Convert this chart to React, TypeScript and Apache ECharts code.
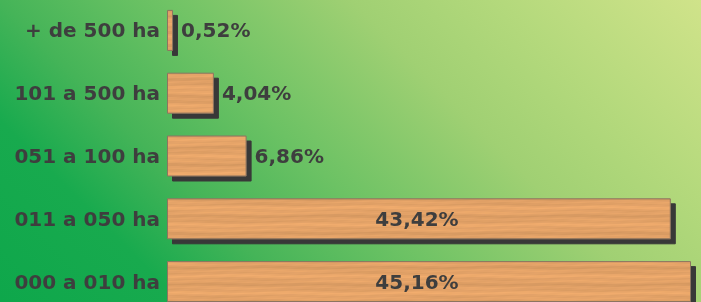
import React, { useEffect, useRef } from 'react';
import * as echarts from 'echarts';

const categories: string[] = ['+ de 500 ha', '101 a 500 ha', '051 a 100 ha', '011 a 050 ha', '000 a 010 ha'];
const shares: number[] = [0.52, 4.04, 6.86, 43.42, 45.16];
const insideLabelThreshold = 20;

function makeWood(): HTMLCanvasElement {
  const w = 240;
  const h = 302;
  const c = document.createElement('canvas');
  c.width = w;
  c.height = h;
  const ctx = c.getContext('2d')!;
  const img = ctx.createImageData(w, h);
  const TX = (2 * Math.PI) / w;
  for (let y = 0; y < h; y++) {
    for (let x = 0; x < w; x++) {
      const g =
        Math.sin(y * 1.1 + 0.7 * Math.sin(x * TX * 2 + y * 0.19)) * 0.4 +
        Math.sin(y * 0.37 + 0.5 * Math.sin(x * TX * 1 + y * 0.05)) * 0.4 +
        Math.sin(y * 2.9 + x * TX * 5) * 0.15 +
        Math.sin(x * TX * 11 + y * 0.8) * 0.08;
      const k = 1 + g * 0.07;
      const i = (y * w + x) * 4;
      img.data[i] = Math.min(255, 227 * k);
      img.data[i + 1] = Math.min(255, 162 * k);
      img.data[i + 2] = Math.min(255, 103 * k);
      img.data[i + 3] = 255;
    }
  }
  ctx.putImageData(img, 0, 0);
  return c;
}

const fmt = (v: number) => v.toFixed(2).replace('.', ',') + '%';

export default function App() {
  const ref = useRef<HTMLDivElement>(null);
  useEffect(() => {
    if (!ref.current) return;
    const chart = echarts.init(ref.current, undefined, { renderer: 'svg' });
    const wood = makeWood();
    const labelFont = {
      fontFamily: 'DejaVu Sans',
      fontWeight: 'bold' as const,
      fontSize: 20,
      color: '#3e3e3e',
    };
    const data = shares.map((v) => {
      const inside = v > insideLabelThreshold;
      return {
        value: v,
        label: inside
          ? { show: true, position: [250, '50%'], align: 'center', verticalAlign: 'middle', ...labelFont, formatter: (p: any) => fmt(p.value) }
          : { show: true, position: 'right', distance: 8, ...labelFont, formatter: (p: any) => fmt(p.value) },
      };
    });
    const bg = new echarts.graphic.LinearGradient(
      0, 302, 502, -200,
      [
        { offset: 0, color: '#0ea74b' },
        { offset: 0.18, color: '#18aa4e' },
        { offset: 0.3, color: '#45b458' },
        { offset: 0.45, color: '#6cc264' },
        { offset: 0.65, color: '#a0d073' },
        { offset: 0.8, color: '#b4d97c' },
        { offset: 1, color: '#d0e38a' },
      ],
      true
    );
    chart.setOption({
      animation: false,
      graphic: [
        {
          type: 'rect',
          z: -10,
          silent: true,
          shape: { x: 0, y: 0, width: 701, height: 302 },
          style: { fill: bg },
        },
      ],
      grid: { left: 167, width: 524, top: -1, height: 314, containLabel: false, outerBoundsMode: 'none' },
      xAxis: {
        type: 'value',
        min: 0,
        max: 'dataMax',
        show: false,
        splitLine: { show: false },
      },
      yAxis: {
        type: 'category',
        inverse: true,
        data: categories,
        axisLine: { show: false },
        axisTick: { show: false },
        axisLabel: { margin: 7, ...labelFont },
      },
      series: [
        {
          type: 'bar',
          data,
          barWidth: 41,
          itemStyle: {
            color: { image: wood, repeat: 'repeat', imageWidth: 240, imageHeight: 302 } as any,
            borderColor: '#8c7560',
            borderWidth: 1,
            shadowColor: '#383838',
            shadowBlur: 0,
            shadowOffsetX: 5,
            shadowOffsetY: 5,
          },
        },
      ],
    });
    return () => chart.dispose();
  }, []);
  return <div ref={ref} style={{ position: 'fixed', left: 0, top: 0, width: 701, height: 302 }} />;
}
